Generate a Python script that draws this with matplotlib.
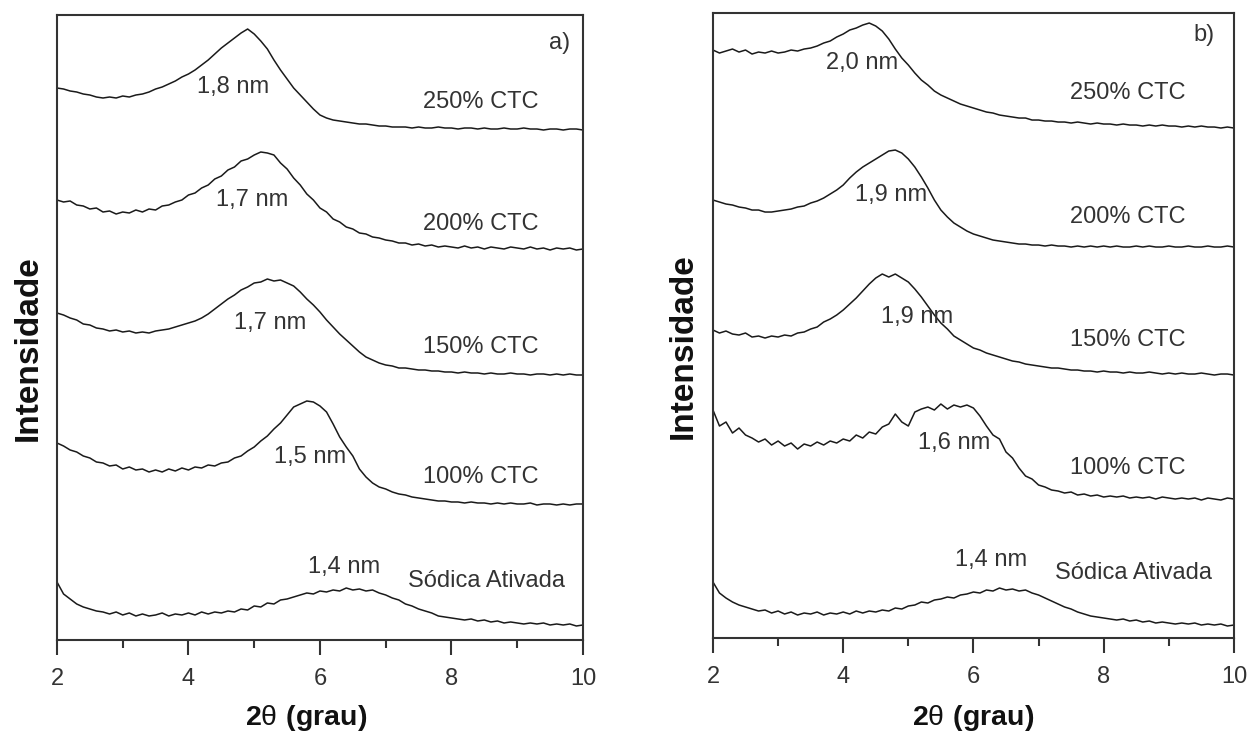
import numpy as np
import matplotlib
matplotlib.use("Agg")
import matplotlib.pyplot as plt
from matplotlib.ticker import MultipleLocator

plt.rcParams['font.family'] = ['Liberation Sans', 'DejaVu Sans']
plt.rcParams['mathtext.fontset'] = 'custom'
plt.rcParams['mathtext.rm'] = 'Liberation Sans'
plt.rcParams['mathtext.bf'] = 'Liberation Sans:bold'

# 2theta grid (degrees), every 0.1 from 2 to 10
two_theta = np.round(np.arange(2.0, 10.001, 0.1), 1)

labels = ["250% CTC", "200% CTC", "150% CTC", "100% CTC", "Sódica Ativada"]

# Panel a) intensities (stacked, arbitrary units)
a_250 = [552, 551, 549, 548, 546, 545, 543, 542, 543, 542, 544, 543, 545, 546, 548, 551, 553, 556, 559, 563,
         566, 570, 575, 580, 586, 592, 597, 602, 607, 611, 606, 599, 591, 580, 570, 561, 552, 545, 538, 531,
         525, 522, 520, 519, 518, 517, 516, 516, 515, 514, 514, 513, 513, 513, 512, 513, 512, 512, 513, 512,
         512, 511, 512, 512, 511, 512, 511, 511, 512, 511, 511, 512, 511, 511, 510, 511, 511, 510, 511, 511, 510]
a_200 = [440, 438, 439, 435, 434, 431, 432, 428, 429, 426, 428, 427, 430, 428, 431, 430, 434, 435, 438, 440,
         445, 447, 452, 455, 461, 464, 470, 473, 479, 481, 485, 488, 487, 485, 477, 471, 462, 455, 446, 440,
         432, 428, 421, 418, 413, 411, 407, 406, 403, 402, 400, 399, 397, 397, 395, 396, 394, 395, 393, 394,
         393, 392, 394, 392, 393, 391, 393, 392, 391, 393, 392, 391, 393, 391, 392, 390, 392, 391, 392, 390, 391]
a_150 = [327, 325, 322, 320, 316, 315, 312, 311, 309, 310, 308, 309, 307, 308, 307, 309, 310, 311, 313, 315,
         317, 319, 322, 326, 331, 336, 341, 345, 350, 353, 357, 358, 361, 359, 360, 357, 354, 348, 341, 335,
         328, 320, 313, 306, 300, 294, 288, 283, 280, 277, 275, 274, 272, 272, 271, 270, 270, 269, 269, 268,
         268, 267, 268, 267, 267, 266, 267, 266, 266, 267, 266, 266, 265, 266, 266, 265, 266, 265, 266, 265, 265]
a_100 = [197, 194, 190, 188, 184, 182, 178, 177, 174, 175, 171, 173, 170, 171, 168, 170, 168, 171, 169, 172,
         170, 173, 172, 175, 174, 177, 178, 182, 184, 189, 193, 199, 204, 211, 217, 225, 233, 236, 239, 238,
         234, 228, 216, 203, 193, 184, 171, 163, 157, 153, 151, 148, 146, 145, 143, 142, 141, 140, 139, 139,
         138, 138, 137, 138, 137, 137, 136, 137, 136, 137, 136, 136, 137, 135, 136, 136, 135, 136, 135, 136, 136]
a_na = [58, 46, 41, 36, 33, 31, 29, 28, 26, 28, 25, 27, 24, 26, 24, 25, 27, 24, 26, 25,
        27, 25, 28, 26, 28, 27, 29, 28, 31, 30, 34, 33, 37, 36, 40, 41, 43, 45, 47, 46,
        49, 48, 50, 49, 52, 50, 51, 49, 50, 47, 45, 42, 40, 36, 34, 31, 29, 27, 24, 23,
        22, 21, 20, 21, 19, 20, 18, 19, 17, 18, 17, 16, 17, 16, 17, 15, 16, 15, 16, 14, 15]

# Panel b)
b_250 = [588, 585, 587, 589, 586, 588, 584, 586, 585, 587, 585, 586, 588, 587, 589, 590, 592, 595, 597, 601,
         604, 608, 610, 613, 615, 612, 607, 599, 589, 580, 573, 565, 558, 553, 547, 543, 540, 537, 534, 532,
         530, 528, 526, 525, 523, 522, 521, 520, 520, 518, 518, 517, 517, 516, 516, 515, 516, 515, 514, 515,
         514, 514, 513, 514, 513, 513, 512, 513, 512, 513, 512, 512, 511, 512, 511, 512, 511, 511, 510, 511, 510]
b_200 = [438, 436, 434, 433, 431, 430, 428, 428, 426, 426, 427, 428, 429, 431, 432, 435, 437, 440, 444, 448,
         453, 460, 466, 471, 475, 479, 483, 487, 488, 485, 479, 471, 461, 450, 438, 428, 421, 415, 411, 407,
         404, 402, 400, 398, 397, 396, 395, 394, 394, 393, 393, 392, 393, 392, 392, 391, 392, 391, 392, 391,
         392, 391, 392, 391, 391, 392, 391, 392, 391, 391, 392, 391, 391, 392, 391, 391, 392, 391, 391, 392, 391]
b_150 = [308, 305, 307, 304, 303, 305, 301, 302, 300, 302, 301, 303, 302, 305, 306, 309, 311, 316, 319, 323,
         328, 334, 340, 347, 354, 360, 364, 361, 364, 360, 356, 349, 341, 332, 323, 315, 309, 302, 298, 294,
         290, 288, 285, 283, 281, 279, 277, 276, 274, 273, 272, 271, 270, 270, 269, 268, 268, 267, 267, 266,
         267, 266, 266, 265, 266, 265, 265, 266, 265, 264, 265, 264, 265, 264, 264, 265, 264, 263, 264, 264, 263]
b_100 = [228, 212, 216, 205, 210, 203, 200, 196, 199, 193, 197, 192, 195, 189, 194, 192, 196, 193, 197, 195,
         199, 197, 203, 200, 206, 204, 211, 214, 224, 216, 212, 226, 229, 231, 228, 234, 229, 233, 231, 233,
         230, 222, 212, 203, 199, 186, 180, 170, 162, 159, 153, 151, 148, 147, 145, 146, 143, 144, 142, 143,
         141, 142, 141, 142, 140, 141, 140, 141, 139, 141, 140, 139, 140, 139, 140, 138, 140, 139, 138, 140, 139]
b_na = [56, 45, 40, 36, 33, 31, 29, 27, 28, 25, 27, 24, 26, 23, 25, 24, 26, 23, 25, 24,
        26, 24, 27, 25, 27, 26, 28, 27, 30, 29, 32, 33, 36, 35, 38, 39, 41, 40, 43, 44,
        46, 45, 48, 47, 50, 48, 49, 47, 48, 45, 43, 40, 37, 34, 31, 29, 26, 24, 22, 21,
        20, 19, 18, 19, 17, 18, 16, 17, 15, 16, 15, 14, 15, 14, 15, 13, 14, 13, 14, 12, 13]

# basal spacings written next to each peak
a_spacing = ["1,8 nm", "1,7 nm", "1,7 nm", "1,5 nm", "1,4 nm"]
b_spacing = ["2,0 nm", "1,9 nm", "1,9 nm", "1,6 nm", "1,4 nm"]

# label positions (2theta, intensity)
a_spacing_pos = [(4.68, 553), (4.97, 440), (5.24, 317), (5.85, 183), (6.37, 73)]
b_spacing_pos = [(4.29, 575), (4.74, 443), (5.13, 321), (5.70, 195), (6.27, 78)]
a_label_pos = [(8.44, 538), (8.44, 416), (8.44, 293), (8.44, 163), (8.53, 59)]
b_label_pos = [(8.37, 545), (8.37, 421), (8.37, 298), (8.37, 170), (8.46, 65)]

TXT = '#333333'
LINE = '#1a1a1a'


def draw_panel(ax, curves, spacing, spacing_pos, label_pos, tag, tag_pos, xlab_xy, ylab_x):
  for y in curves:
    ax.plot(two_theta, y, color=LINE, lw=1.1)

  for s, (x, y) in zip(spacing, spacing_pos):
    ax.text(x, y, s, ha='center', va='center', fontsize=17, color=TXT)
  for s, (x, y) in zip(labels, label_pos):
    ax.text(x, y, s, ha='center', va='center', fontsize=17, color=TXT)
  ax.text(tag_pos[0], tag_pos[1], tag, ha='center', va='center', fontsize=17, color=TXT)

  ax.set_xlim(2, 10)
  ax.set_ylim(0, 625)
  ax.set_yticks([])
  ax.xaxis.set_major_locator(MultipleLocator(2))
  ax.xaxis.set_minor_locator(MultipleLocator(1))
  ax.tick_params(axis='x', which='major', direction='out', length=11, width=1.5,
                 labelsize=17, labelcolor=TXT, color='#333333', pad=9)
  ax.tick_params(axis='x', which='minor', direction='out', length=6, width=1.5, color='#333333')
  for sp in ax.spines.values():
    sp.set_linewidth(1.5)
    sp.set_color('#333333')
  ax.set_xlabel(r'$\mathbf{2}\mathrm{θ}\ \mathbf{(grau)}$', fontsize=20.5, color='#111111')
  ax.xaxis.label.set_va('center')
  ax.xaxis.set_label_coords(xlab_xy[0], xlab_xy[1])
  ax.set_ylabel('Intensidade', fontsize=24, fontweight='bold', color='#111111')
  ax.yaxis.label.set_va('center')
  ax.yaxis.set_label_coords(ylab_x, 0.467)


fig = plt.figure(figsize=(12.55, 7.32), dpi=100)
ax_a = fig.add_axes([0.0454, 0.1257, 0.4191, 0.8538])
ax_b = fig.add_axes([0.5681, 0.1284, 0.4151, 0.8538])

draw_panel(ax_a, [a_250, a_200, a_150, a_100, a_na], a_spacing, a_spacing_pos, a_label_pos,
           'a)', (9.64, 597), (0.473, -0.125), -0.055)
draw_panel(ax_b, [b_250, b_200, b_150, b_100, b_na], b_spacing, b_spacing_pos, b_label_pos,
           'b)', (9.54, 603), (0.5, -0.128), -0.058)

plt.savefig('out.png', dpi=100)
